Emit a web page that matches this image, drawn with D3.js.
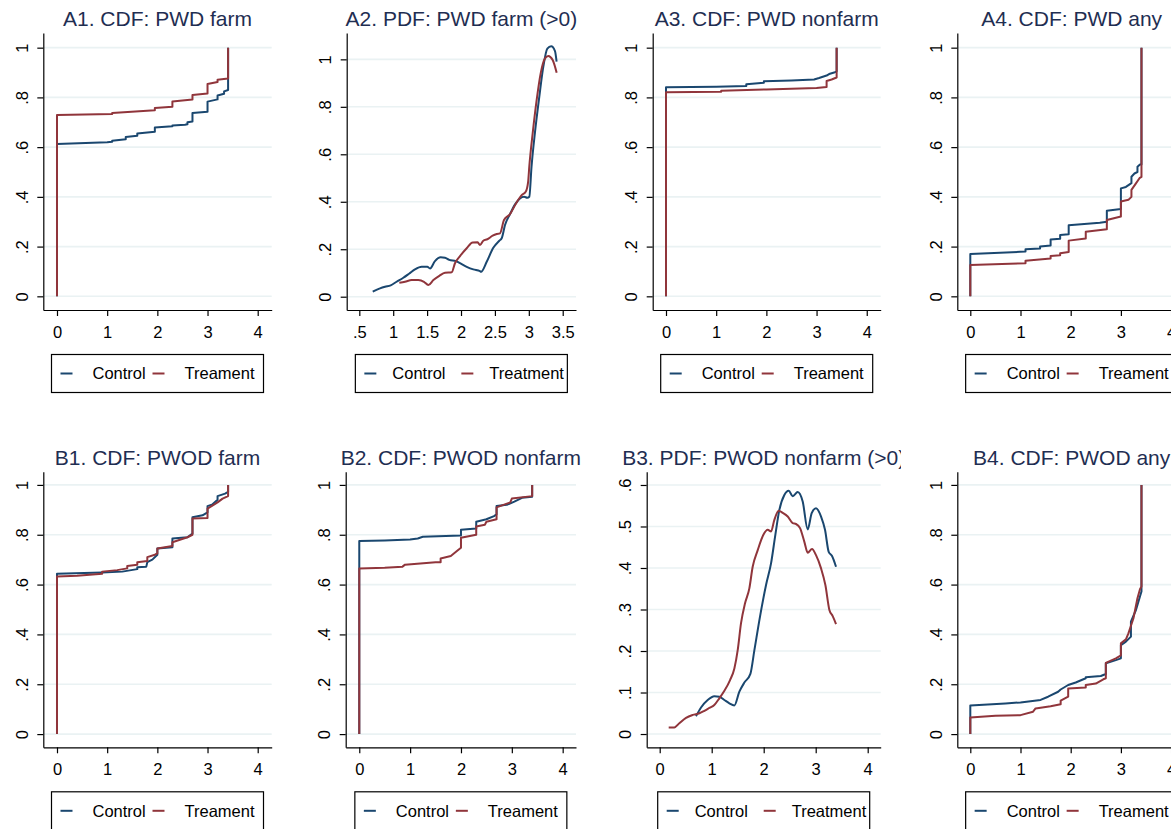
<!DOCTYPE html>
<html>
<head>
<meta charset="utf-8">
<script src="https://cdn.jsdelivr.net/npm/d3@7"></script>
<style>
  body { margin: 0; background: #fff; }
  svg { display: block; font-family: "Liberation Sans", Arial, sans-serif; }
</style>
</head>
<body>
<div id="chart"></div>
<script>
// Panel titles and legend labels
var titles = ["A1. CDF: PWD farm", "A2. PDF: PWD farm (>0)", "A3. CDF: PWD nonfarm", "A4. CDF: PWD any",
              "B1. CDF: PWOD farm", "B2. CDF: PWOD nonfarm", "B3. PDF: PWOD nonfarm (>0)", "B4. CDF: PWOD any"];
var legendCdf = ["Control", "Treament"];
var legendPdf = ["Control", "Treatment"];

// Tick values
var cdfXTicks = [0, 1, 2, 3, 4];
var pdfFarmXTicks = [0.5, 1, 1.5, 2, 2.5, 3, 3.5];
var cdfYTicks = [0, 0.2, 0.4, 0.6, 0.8, 1];
var pdfNonfarmYTicks = [0, 0.1, 0.2, 0.3, 0.4, 0.5, 0.6];

// Series as [x, y]
var a1Control = [[0,0],[0,0.613],[1.0,0.62],[1.1,0.622],[1.1,0.626],[1.37,0.632],[1.37,0.641],[1.6,0.646],[1.6,0.655],[1.95,0.662],[1.95,0.679],[2.3,0.684],[2.3,0.687],[2.55,0.69],[2.6,0.692],[2.6,0.70],[2.7,0.703],[2.7,0.737],[3.0,0.742],[3.0,0.783],[3.2,0.792],[3.2,0.808],[3.33,0.815],[3.33,0.824],[3.41,0.83],[3.41,1.0]];
var a1Treatment = [[0,0],[0,0.729],[1.1,0.733],[1.1,0.737],[1.95,0.748],[1.95,0.757],[2.3,0.762],[2.3,0.784],[2.7,0.792],[2.7,0.81],[3.0,0.816],[3.0,0.854],[3.2,0.862],[3.2,0.871],[3.41,0.876],[3.41,1.0]];

var a2Control = [[0.698,0.021],[0.805,0.035],[0.879,0.042],[0.963,0.048],[1.05,0.063],[1.149,0.080],[1.238,0.098],[1.32,0.115],[1.42,0.126],[1.503,0.126],[1.543,0.119],[1.616,0.15],[1.70,0.166],[1.764,0.164],[1.827,0.155],[1.926,0.15],[1.985,0.141],[2.084,0.126],[2.181,0.115],[2.28,0.108],[2.295,0.105],[2.379,0.147],[2.476,0.206],[2.565,0.236],[2.60,0.246],[2.649,0.302],[2.723,0.348],[2.797,0.389],[2.87,0.414],[2.93,0.421],[2.978,0.417],[3.007,0.421],[3.04,0.548],[3.09,0.69],[3.155,0.843],[3.214,0.969],[3.273,1.045],[3.33,1.055],[3.386,1.035],[3.41,0.99]];
var a2Treatment = [[1.09,0.059],[1.174,0.063],[1.273,0.070],[1.37,0.070],[1.454,0.063],[1.518,0.049],[1.592,0.07],[1.68,0.088],[1.764,0.101],[1.863,0.103],[1.911,0.141],[1.985,0.171],[2.084,0.204],[2.172,0.228],[2.246,0.229],[2.28,0.218],[2.329,0.236],[2.388,0.242],[2.467,0.257],[2.527,0.264],[2.575,0.267],[2.634,0.323],[2.723,0.348],[2.811,0.393],[2.895,0.428],[2.954,0.442],[2.99,0.484],[3.007,0.548],[3.057,0.688],[3.116,0.829],[3.175,0.941],[3.239,1.004],[3.288,1.014],[3.352,0.997],[3.41,0.944]];

var a3Control = [[0,0],[0,0.841],[1.0,0.843],[1.6,0.846],[1.6,0.853],[1.95,0.859],[1.95,0.865],[2.5,0.868],[2.95,0.872],[3.05,0.878],[3.2,0.888],[3.25,0.894],[3.35,0.9],[3.4,0.905],[3.4,1.0]];
var a3Treatment = [[0,0],[0,0.821],[1.1,0.823],[1.1,0.827],[2.0,0.832],[3.0,0.838],[3.2,0.842],[3.2,0.866],[3.3,0.872],[3.4,0.88],[3.4,1.0]];

var a4Control = [[0,0],[0,0.17],[0.99,0.179],[1.1,0.18],[1.1,0.189],[1.39,0.192],[1.39,0.2],[1.6,0.204],[1.6,0.229],[1.79,0.232],[1.79,0.247],[1.96,0.25],[1.96,0.286],[2.58,0.296],[2.72,0.3],[2.72,0.344],[3.0,0.351],[3.0,0.434],[3.1,0.44],[3.21,0.455],[3.21,0.481],[3.27,0.494],[3.33,0.5],[3.33,0.521],[3.38,0.53],[3.41,0.53],[3.41,1.0]];
var a4Treatment = [[0,0],[0,0.126],[1.1,0.133],[1.1,0.143],[1.6,0.152],[1.6,0.162],[1.79,0.165],[1.79,0.173],[1.96,0.178],[1.96,0.224],[2.3,0.233],[2.3,0.26],[2.72,0.27],[2.72,0.307],[3.0,0.321],[3.0,0.381],[3.15,0.388],[3.21,0.4],[3.21,0.428],[3.3,0.454],[3.37,0.475],[3.41,0.48],[3.41,1.0]];

var b1Control = [[0,0],[0,0.643],[0.9,0.648],[1.3,0.652],[1.6,0.662],[1.6,0.67],[1.78,0.672],[1.8,0.69],[1.9,0.70],[2.0,0.72],[2.0,0.745],[2.3,0.75],[2.3,0.785],[2.6,0.79],[2.7,0.805],[2.7,0.87],[2.9,0.878],[3.0,0.89],[3.0,0.915],[3.1,0.922],[3.2,0.94],[3.2,0.955],[3.35,0.965],[3.41,0.972],[3.41,1.0]];
var b1Treatment = [[0,0],[0,0.632],[0.4,0.635],[0.9,0.643],[0.9,0.652],[1.2,0.658],[1.4,0.665],[1.4,0.675],[1.6,0.68],[1.6,0.69],[1.8,0.695],[1.8,0.71],[1.95,0.72],[2.0,0.725],[2.0,0.745],[2.3,0.755],[2.3,0.77],[2.6,0.79],[2.7,0.80],[2.7,0.865],[3.0,0.867],[3.0,0.905],[3.2,0.93],[3.3,0.945],[3.41,0.955],[3.41,1.0]];

var b2Control = [[0,0],[0,0.775],[0.5,0.777],[1.0,0.781],[1.15,0.785],[1.25,0.792],[2.0,0.797],[2.0,0.82],[2.3,0.825],[2.3,0.852],[2.5,0.862],[2.65,0.875],[2.7,0.882],[2.7,0.915],[2.9,0.92],[3.05,0.933],[3.2,0.948],[3.4,0.952],[3.4,1.0]];
var b2Treatment = [[0,0],[0,0.665],[0.5,0.668],[0.85,0.672],[0.9,0.68],[1.5,0.69],[1.6,0.69],[1.6,0.705],[1.8,0.715],[1.92,0.735],[2.0,0.748],[2.0,0.788],[2.3,0.80],[2.3,0.833],[2.47,0.84],[2.5,0.852],[2.7,0.862],[2.7,0.91],[2.97,0.93],[3.0,0.945],[3.4,0.955],[3.4,1.0]];

var b3Control = [[0.699,0.043],[0.795,0.064],[0.923,0.082],[1.051,0.091],[1.147,0.09],[1.244,0.082],[1.34,0.074],[1.436,0.069],[1.532,0.102],[1.628,0.124],[1.744,0.145],[1.821,0.202],[1.929,0.283],[2.045,0.359],[2.141,0.411],[2.224,0.48],[2.301,0.54],[2.397,0.576],[2.481,0.586],[2.558,0.573],[2.654,0.583],[2.75,0.56],[2.846,0.493],[2.923,0.532],[3.006,0.544],[3.103,0.524],[3.179,0.492],[3.25,0.439],[3.314,0.429],[3.391,0.403]];
var b3Treatment = [[0.173,0.016],[0.282,0.016],[0.378,0.026],[0.506,0.039],[0.635,0.046],[0.763,0.05],[0.859,0.056],[0.955,0.063],[1.05,0.07],[1.147,0.086],[1.244,0.104],[1.353,0.13],[1.436,0.158],[1.5,0.202],[1.564,0.267],[1.641,0.315],[1.724,0.351],[1.788,0.403],[1.885,0.443],[1.994,0.48],[2.077,0.492],[2.141,0.488],[2.205,0.516],[2.288,0.538],[2.365,0.533],[2.462,0.524],[2.558,0.508],[2.622,0.506],[2.699,0.496],[2.782,0.463],[2.846,0.437],[2.929,0.446],[3.006,0.431],[3.103,0.399],[3.186,0.359],[3.263,0.299],[3.327,0.284],[3.391,0.265]];

var b4Control = [[0,0],[0,0.115],[0.7,0.123],[1.0,0.127],[1.4,0.137],[1.55,0.15],[1.75,0.17],[1.8,0.179],[1.95,0.197],[2.1,0.207],[2.3,0.224],[2.3,0.228],[2.6,0.233],[2.7,0.241],[2.7,0.284],[2.9,0.297],[3.0,0.304],[3.0,0.357],[3.1,0.371],[3.2,0.391],[3.2,0.451],[3.3,0.498],[3.38,0.552],[3.41,0.572],[3.41,1.0]];
var b4Treatment = [[0,0],[0,0.067],[0.5,0.074],[1.0,0.076],[1.25,0.09],[1.3,0.103],[1.6,0.112],[1.8,0.12],[1.8,0.134],[1.95,0.15],[1.95,0.183],[2.3,0.187],[2.3,0.197],[2.5,0.203],[2.65,0.22],[2.7,0.224],[2.7,0.286],[2.9,0.304],[3.0,0.316],[3.0,0.364],[3.1,0.38],[3.15,0.404],[3.25,0.465],[3.33,0.545],[3.38,0.581],[3.41,0.592],[3.41,1.0]];

var panels = [
  {ctrl: a1Control, trt: a1Treatment, xTicks: cdfXTicks, yTicks: cdfYTicks, legend: legendCdf, pdf: false},
  {ctrl: a2Control, trt: a2Treatment, xTicks: pdfFarmXTicks, yTicks: cdfYTicks, legend: legendPdf, pdf: true},
  {ctrl: a3Control, trt: a3Treatment, xTicks: cdfXTicks, yTicks: cdfYTicks, legend: legendCdf, pdf: false},
  {ctrl: a4Control, trt: a4Treatment, xTicks: cdfXTicks, yTicks: cdfYTicks, legend: legendCdf, pdf: false},
  {ctrl: b1Control, trt: b1Treatment, xTicks: cdfXTicks, yTicks: cdfYTicks, legend: legendCdf, pdf: false},
  {ctrl: b2Control, trt: b2Treatment, xTicks: cdfXTicks, yTicks: cdfYTicks, legend: legendCdf, pdf: false},
  {ctrl: b3Control, trt: b3Treatment, xTicks: cdfXTicks, yTicks: pdfNonfarmYTicks, legend: legendPdf, pdf: true},
  {ctrl: b4Control, trt: b4Treatment, xTicks: cdfXTicks, yTicks: cdfYTicks, legend: legendCdf, pdf: false}
];

// Plot regions (pixels) and axis ranges, like Stata's graph combine
var frames = [
  {l: 43.3,  r: 271.7, t: 33,    b: 310,   xd: [-0.273, 4.279], yd: [-0.055, 1.059], cl: 0,   cr: 290},
  {l: 346.7, r: 576,   t: 33,    b: 310,   xd: [0.314, 3.696],  yd: [-0.056, 1.111], cl: 290, cr: 590},
  {l: 652.7, r: 880.7, t: 33,    b: 310,   xd: [-0.265, 4.278], yd: [-0.055, 1.059], cl: 590, cr: 901},
  {l: 957.3, r: 1186,  t: 33,    b: 310,   xd: [-0.259, 4.297], yd: [-0.055, 1.059], cl: 901, cr: 1171},
  {l: 43.3,  r: 271.7, t: 471.7, b: 747.3, xd: [-0.273, 4.279], yd: [-0.053, 1.053], cl: 0,   cr: 290},
  {l: 345.7, r: 576,   t: 471.7, b: 747.3, xd: [-0.267, 4.262], yd: [-0.053, 1.053], cl: 290, cr: 590},
  {l: 646.7, r: 880.7, t: 471.7, b: 747.3, xd: [-0.25, 4.25],   yd: [-0.032, 0.632], cl: 590, cr: 901},
  {l: 957.3, r: 1186,  t: 471.7, b: 747.3, xd: [-0.259, 4.297], yd: [-0.053, 1.053], cl: 901, cr: 1171}
];

var width = 1171, height = 829;
var colors = ["#1a476f", "#90353b"];
var gridColor = "#eaf2f3";
var titleColor = "#1f2e52";
var fontSize = 16.5;

// Stata style labels: ".2" instead of "0.2"
var fmt = function(d) { return String(d).replace(/^0\./, "."); };

var svg = d3.select("#chart").append("svg")
            .attr("width", width)
            .attr("height", height);
var defs = svg.append("defs");

panels.forEach(function(p, i) {
  var f = frames[i];

  var x = d3.scaleLinear().domain(f.xd).range([f.l, f.r]);
  var y = d3.scaleLinear().domain(f.yd).range([f.b, f.t]);

  defs.append("clipPath").attr("id", "clip" + i)
      .append("rect").attr("x", f.cl).attr("y", 0)
      .attr("width", f.cr - f.cl).attr("height", height);

  var g = svg.append("g").attr("clip-path", "url(#clip" + i + ")");

  // gridlines
  g.selectAll(".grid").data(p.yTicks).enter()
   .append("line").attr("class", "grid")
   .attr("x1", f.l).attr("x2", f.r)
   .attr("y1", (d) => y(d)).attr("y2", (d) => y(d))
   .attr("stroke", gridColor).attr("stroke-width", 1.6);

  // axes
  var gx = g.append("g")
            .attr("transform", "translate(0," + f.b + ")")
            .call(d3.axisBottom(x).tickValues(p.xTicks).tickFormat(fmt)
                    .tickSize(6).tickSizeOuter(0).tickPadding(10));
  var gy = g.append("g")
            .attr("transform", "translate(" + f.l + ",0)")
            .call(d3.axisLeft(y).tickValues(p.yTicks).tickFormat(fmt)
                    .tickSize(6).tickSizeOuter(0));

  [gx, gy].forEach(function(a) {
    a.attr("font-size", fontSize).attr("font-family", null);
    a.select(".domain").attr("stroke", "#000").attr("stroke-width", 1.2);
    a.selectAll(".tick line").attr("stroke", "#000").attr("stroke-width", 1.2);
    a.selectAll(".tick text").attr("fill", "#000");
  });

  // vertical y labels, reading bottom to top
  gy.selectAll(".tick text")
    .attr("x", 0).attr("dy", null)
    .attr("text-anchor", "middle")
    .attr("transform", "translate(-15.7,0) rotate(-90)");

  // curves: control first, treatment on top
  var line = d3.line()
               .x((d) => x(d[0]))
               .y((d) => y(d[1]))
               .curve(p.pdf ? d3.curveMonotoneX : d3.curveLinear);

  [p.ctrl, p.trt].forEach(function(s, k) {
    g.append("path")
     .datum(s)
     .attr("d", line)
     .attr("fill", "none")
     .attr("stroke", colors[k])
     .attr("stroke-width", 2)
     .attr("stroke-linejoin", "round");
  });

  // title
  g.append("text")
   .attr("x", (f.l + f.r) / 2)
   .attr("y", f.t - 7)
   .attr("text-anchor", "middle")
   .attr("font-size", 21)
   .attr("fill", titleColor)
   .text(titles[i]);

  // legend
  var lw = 212, lh = 38;
  var lx = (f.l + f.r) / 2 - lw / 2;
  var ly = f.b + 44.5;
  // the "Treatment" legends sit a little tighter
  var long = p.legend[1] == "Treatment";
  var col2 = long ? 106 : 101;
  var gap = long ? 28 : 32;

  g.append("rect")
   .attr("x", lx).attr("y", ly)
   .attr("width", lw).attr("height", lh)
   .attr("fill", "#fff").attr("stroke", "#000").attr("stroke-width", 1.2);

  var items = g.selectAll(".legendItem").data(p.legend).enter()
               .append("g").attr("class", "legendItem")
               .attr("transform", (d, k) => "translate(" + (lx + 9 + k * (col2 - 9)) + "," + (ly + lh / 2) + ")");

  items.append("line")
       .attr("x1", 0).attr("x2", 12).attr("y1", 0).attr("y2", 0)
       .attr("stroke", (d, k) => colors[k]).attr("stroke-width", 2);

  items.append("text")
       .attr("x", gap).attr("y", 0).attr("dy", "0.36em")
       .attr("font-size", fontSize)
       .attr("fill", "#000")
       .text((d) => d);
});
</script>
</body>
</html>
